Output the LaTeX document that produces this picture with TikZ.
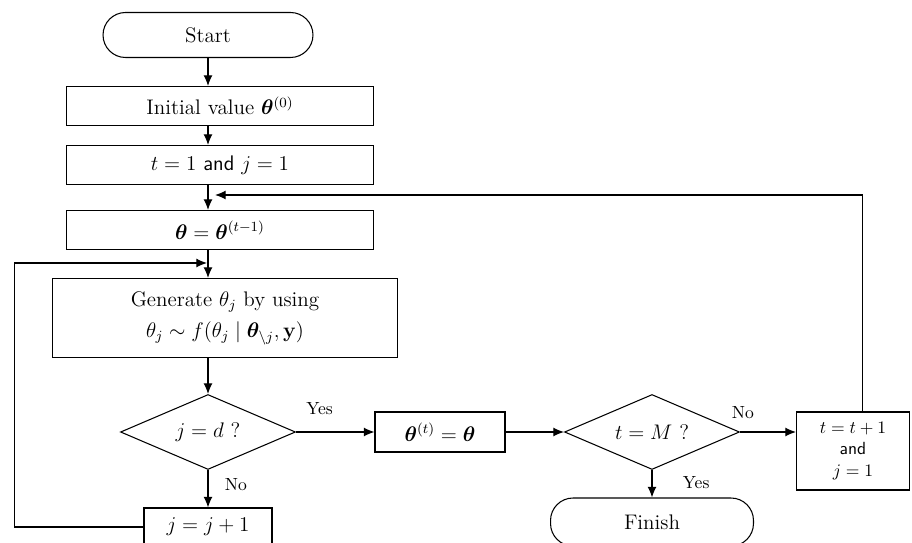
\documentclass[tikz,border=0pt]{standalone}
\usepackage{bm}
\usetikzlibrary{shapes.geometric, arrows.meta}

\begin{document}
\begin{tikzpicture}[
      x=0.02cm, y=-0.02cm, >={Latex[length=6pt,width=5pt]}, semithick,
      term/.style={rectangle, draw, rounded corners=0.45cm, minimum width=4.2cm, minimum height=0.9cm, font=\large},
      proc/.style={rectangle, draw, minimum width=6.14cm, minimum height=0.78cm, font=\large},
      deci/.style={diamond, draw, aspect=2.33, inner sep=0pt, minimum width=3.5cm, minimum height=1.5cm, font=\large},
      lbl/.style={font=\normalsize},
    ]
    \useasboundingbox (0,0) rectangle (912,543);

    % Nodes
    \node[term] (start) at (208,35) {Start};
    \node[proc] (init) at (220,106) {Initial value $\bm{\theta}^{(0)}$};
    \node[proc] (tj) at (220,165) {$t = 1$ \textsf{and} $j = 1$};
    \node[proc] (theta) at (220,230) {$\bm{\theta} = \bm{\theta}^{(t-1)}$};
    \node[proc, minimum width=6.92cm, minimum height=1.58cm, align=center] (gen) at (225,318)
      {Generate $\theta_j$ by using\\[4pt] $\theta_j \sim f(\theta_j \mid \bm{\theta}_{\setminus j}, \mathbf{y})$};
    \node[deci] (dj) at (208,432) {$j = d$ ?};
    \node[proc, minimum width=2.6cm, minimum height=0.8cm] (thetat) at (440,432) {$\bm{\theta}^{(t)} = \bm{\theta}$};
    \node[deci] (dt) at (652,432) {$t = M$ ?};
    \node[proc, minimum width=2.26cm, minimum height=1.56cm, align=center, font=\normalsize] (incr) at (853,451)
      {$t = t + 1$\\ \textsf{and}\\ $j = 1$};
    \node[term, minimum width=4.06cm, minimum height=0.96cm] (finish) at (652,522) {Finish};
    \node[proc, minimum width=2.56cm, minimum height=0.76cm] (jinc) at (208,527) {$j = j + 1$};

    % Loop joins
    \coordinate (loopT) at (215,195);
    \coordinate (loopL) at (207,263);

    % Arrows
    \draw[->] (start.south) -- (start.south |- init.north);
    \draw[->] (start.south |- init.south) -- (start.south |- tj.north);
    \draw[->] (start.south |- tj.south) -- (start.south |- theta.north);
    \draw[->] (start.south |- theta.south) -- (start.south |- gen.north);
    \draw[->] (dj.north |- gen.south) -- (dj.north);
    \draw[->] (dj.east) -- node[lbl, above, pos=0.3, yshift=6pt] {Yes} (thetat.west);
    \draw[->] (dj.south) -- node[lbl, right, pos=0.4, xshift=6pt] {No} (jinc.north);
    \draw[->] (thetat.east) -- (dt.west);
    \draw[->] (dt.east) -- node[lbl, above, pos=0.05, yshift=4pt] {No} (dt.east -| incr.west);
    \draw[->] (dt.south) -- node[lbl, right, pos=0.45, xshift=14pt] {Yes} (finish.north);
    \draw[->] ([xshift=9\pgflinewidth]incr.north) |- (loopT);
    \draw[->] (jinc.west) -- ++(-129,0) |- (loopL);
  \end{tikzpicture}
\end{document}
